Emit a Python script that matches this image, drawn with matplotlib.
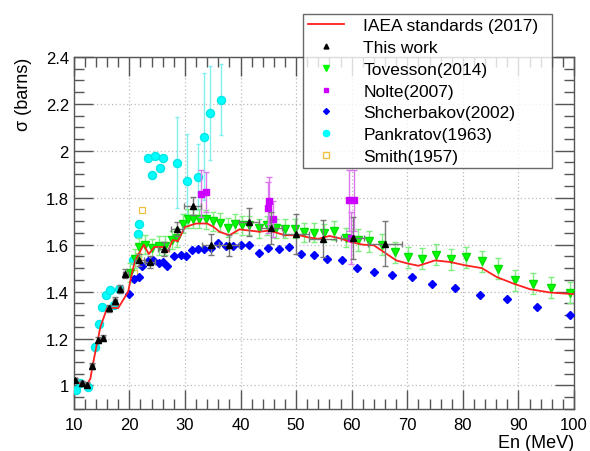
import matplotlib
matplotlib.use("Agg")
import matplotlib.pyplot as plt
from matplotlib.lines import Line2D
from matplotlib.ticker import MultipleLocator

plt.rcParams['font.family'] = ['Liberation Sans', 'DejaVu Sans']

# ---------------- data ----------------
iaea_e = [10, 11, 12.3, 13.0, 13.4, 14.2, 14.8, 16.0, 18.0, 19.8, 20.3, 21.0, 22.6, 23.5, 24.5,
          26.3, 26.9, 27.8, 28.7, 30.0, 32.0, 34.0, 35.2, 36.2, 38.0, 39.8, 41.6, 43.4, 45.2,
          48.0, 50.6, 52.4, 54.0, 56.0, 58.0, 60.0, 62.0, 64.0, 66.0, 68.0, 70.0, 72.0, 75.0,
          77.7, 80.4, 83.4, 86.1, 89.1, 92.1, 95.7, 100]
iaea_s = [1.015, 1.01, 1.0, 1.03, 1.086, 1.18, 1.25, 1.33, 1.33, 1.40, 1.46, 1.53, 1.60, 1.56, 1.59,
          1.59, 1.57, 1.62, 1.615, 1.675, 1.69, 1.69, 1.675, 1.655, 1.64, 1.665, 1.66, 1.655, 1.66,
          1.64, 1.64, 1.63, 1.625, 1.637, 1.626, 1.61, 1.60, 1.597, 1.565, 1.533, 1.52, 1.51, 1.533,
          1.526, 1.512, 1.50, 1.462, 1.434, 1.41, 1.396, 1.389]

tw_e = [10.3, 11.4, 12.4, 13.3, 14.4, 15.3, 16.3, 17.4, 18.4, 19.3, 21.8, 23.8, 26.2, 28.6, 31.4,
        34.6, 38.0, 41.6, 45.5, 50.0, 54.8, 60.2, 66.0]
tw_s = [1.023, 1.009, 1.004, 1.084, 1.193, 1.203, 1.328, 1.36, 1.41, 1.477, 1.535, 1.525, 1.583,
        1.665, 1.765, 1.60, 1.597, 1.695, 1.67, 1.647, 1.626, 1.628, 1.604]
tw_ds = [0.01, 0.01, 0.01, 0.012, 0.012, 0.012, 0.014, 0.015, 0.016, 0.02, 0.025, 0.025, 0.03,
         0.03, 0.04, 0.045, 0.045, 0.06, 0.068, 0.085, 0.078, 0.09, 0.097]
tw_de = [0.3, 0.3, 0.3, 0.3, 0.3, 0.3, 0.4, 0.4, 0.4, 0.5, 0.8, 0.9, 1.0, 1.1, 1.5,
         1.6, 1.8, 1.8, 1.9, 2.4, 2.4, 2.1, 3.0]

tov_e = [20.2, 21.0, 21.7, 22.9, 24.1, 25.3, 26.5, 27.7, 28.6, 29.6, 30.5, 31.5, 32.6, 33.8, 35.0,
         36.3, 37.7, 39.0, 40.3, 41.6, 43.3, 44.8, 46.4, 48.0, 49.8, 51.5, 53.3, 55.0, 56.9, 59.0,
         61.1, 63.2, 65.5, 67.8, 70.2, 72.7, 75.2, 77.9, 80.6, 83.4, 86.4, 89.4, 92.7, 95.9, 99.2]
tov_s = [1.48, 1.54, 1.59, 1.60, 1.585, 1.595, 1.595, 1.62, 1.63, 1.69, 1.71, 1.71, 1.71, 1.708, 1.70,
         1.694, 1.672, 1.69, 1.682, 1.682, 1.67, 1.682, 1.67, 1.668, 1.668, 1.652, 1.651, 1.65, 1.66, 1.63,
         1.62, 1.615, 1.60, 1.568, 1.547, 1.54, 1.557, 1.537, 1.547, 1.53, 1.498, 1.448, 1.434, 1.416, 1.396]
tov_ds = [0.04] * 30 + [0.045] * 15

nol_e = [32.9, 33.8, 44.9, 45.2, 45.9, 59.6, 59.9, 60.5]
nol_s = [1.817, 1.826, 1.758, 1.787, 1.709, 1.79, 1.628, 1.79]
nol_ds = [0.10, 0.085, 0.11, 0.10, 0.075, 0.13, 0.11, 0.13]

shc_e = [19.9, 20.8, 21.7, 22.2, 23.4, 24.3, 25.3, 26.0, 26.7, 28.05, 29.3, 30.2, 31.3, 32.4, 33.5,
         34.6, 35.9, 37.3, 38.6, 40.1, 41.6, 43.3, 45.0, 46.9, 48.8, 50.9, 53.2, 55.6, 58.3, 61.0,
         64.0, 67.2, 70.8, 74.5, 78.6, 83.1, 88.0, 93.3, 99.2]
shc_s = [1.39, 1.452, 1.462, 1.509, 1.53, 1.533, 1.52, 1.525, 1.51, 1.552, 1.557, 1.552, 1.576, 1.58, 1.583,
         1.586, 1.606, 1.595, 1.594, 1.597, 1.597, 1.564, 1.586, 1.583, 1.59, 1.562, 1.555, 1.54, 1.533, 1.502,
         1.483, 1.470, 1.462, 1.431, 1.415, 1.385, 1.367, 1.334, 1.302]
shc_ds = [0.008] * len(shc_e)

pan_e = [10.4, 11.2, 12.5, 13.8, 14.5, 15.1, 15.8, 16.6, 17.2, 18.1, 20.6, 21.5, 21.8,
         23.4, 24.0, 24.6, 25.6, 26.1, 28.6, 30.3, 32.4, 33.5, 34.5, 36.4]
pan_s = [0.98, 1.01, 0.995, 1.165, 1.262, 1.335, 1.384, 1.406, 1.343, 1.41, 1.535, 1.645, 1.69,
         1.969, 1.898, 1.977, 1.928, 1.968, 1.949, 1.87, 1.888, 2.06, 2.16, 2.218]
pan_ds = [0, 0, 0, 0, 0, 0, 0, 0, 0, 0, 0, 0, 0,
          0, 0, 0, 0, 0, 0.195, 0.2, 0.14, 0.27, 0.2, 0.15]

smi_e = [20.8, 21.5, 22.3]
smi_s = [1.48, 1.55, 1.746]

# ---------------- figure ----------------
fig = plt.figure(figsize=(5.90, 4.52), dpi=100)
ax = fig.add_axes([0.125, 0.093, 0.848, 0.779])

ax.set_xlim(10, 100)
ax.set_ylim(0.9, 2.4)
ax.xaxis.set_major_locator(MultipleLocator(10))
ax.xaxis.set_minor_locator(MultipleLocator(2))
ax.yaxis.set_major_locator(MultipleLocator(0.2))
ax.yaxis.set_minor_locator(MultipleLocator(0.05))
ax.yaxis.set_major_formatter(matplotlib.ticker.FuncFormatter(lambda v, p: ('%g' % round(v, 2))))
ax.tick_params(which='both', direction='in', top=True, right=True, labelsize=12, colors='black')
ax.tick_params(which='major', length=14, width=1.0, color='#555555')
ax.tick_params(which='minor', length=7, width=1.0, color='#555555')
ax.tick_params(axis='x', pad=6)
ax.grid(True, which='major', linestyle=(0, (1, 2)), color='#bbbbbb', linewidth=0.9)
for sp in ax.spines.values():
    sp.set_color('#555555')
    sp.set_linewidth(1.0)

# Pankratov
ax.errorbar(pan_e, pan_s, yerr=pan_ds, fmt='o', color='#00ffff', ms=5.8, mec='#00e6e6',
            ecolor='#80f0f0', elinewidth=1.0, capsize=1.5, zorder=3)
# Smith
ax.plot(smi_e, smi_s, 's', mfc='none', mec='#f0c040', ms=5, mew=0.9, zorder=3)
# Shcherbakov
ax.errorbar(shc_e, shc_s, yerr=shc_ds, fmt='D', color='#0000ff', ms=3.8, ecolor='#0000ff',
            elinewidth=0.8, zorder=4)
# Tovesson
ax.errorbar(tov_e, tov_s, yerr=tov_ds, fmt='v', color='#00ff00', ms=6.2, mec='#00dd00',
            ecolor='#80ee80', elinewidth=1.0, capsize=2, zorder=4)
# Nolte
ax.errorbar(nol_e, nol_s, yerr=nol_ds, fmt='s', color='#cc00ff', ms=4.8, ecolor='#dd77ee',
            elinewidth=1.0, capsize=2, zorder=5)
# IAEA
ax.plot(iaea_e, iaea_s, '-', color='#ff2020', lw=1.3, zorder=5)
# This work
ax.errorbar(tw_e, tw_s, xerr=tw_de, yerr=tw_ds, fmt='^', color='black', ms=4.8,
            ecolor='#777777', elinewidth=1.0, capsize=2, zorder=6)

ax.set_ylabel('σ (barns)', fontsize=13, loc='top', labelpad=10)
ax.set_xlabel('En (MeV)', fontsize=13, loc='right', labelpad=1)

handles = [
    Line2D([], [], color='#ff2020', lw=1.3),
    Line2D([], [], ls='none', marker='^', color='black', ms=3.5),
    Line2D([], [], ls='none', marker='v', color='#00ff00', ms=5),
    Line2D([], [], ls='none', marker='s', color='#cc00ff', ms=3.5),
    Line2D([], [], ls='none', marker='D', color='#0000ff', ms=3),
    Line2D([], [], ls='none', marker='o', color='#00ffff', ms=4.5),
    Line2D([], [], ls='none', marker='s', mfc='none', mec='#f0c040', ms=4.5),
]
labels = ['IAEA standards (2017)', 'This work', 'Tovesson(2014)', 'Nolte(2007)',
          'Shcherbakov(2002)', 'Pankratov(1963)', 'Smith(1957)']
leg = fig.legend(handles, labels, loc='upper left',
                 bbox_to_anchor=(0.514, 0.62, 0.422, 0.347), mode='expand',
                 fontsize=12.5, frameon=True, fancybox=False, edgecolor='#444444',
                 handlelength=2.1, handletextpad=1.1, borderpad=0.25, labelspacing=0.38,
                 borderaxespad=0)
leg.get_frame().set_linewidth(1.0)

fig.savefig('out.png', dpi=100)
